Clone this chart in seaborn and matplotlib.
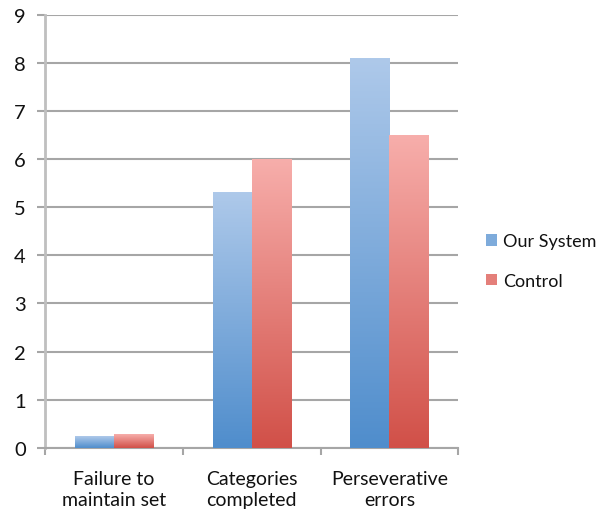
import numpy as np
import pandas as pd
import matplotlib.pyplot as plt
import matplotlib.colors as mcolors
from matplotlib.patches import Patch
import seaborn as sns

# Data
categories = ["Failure to\nmaintain set", "Categories\ncompleted", "Perseverative\nerrors"]
our_system = [0.23, 5.32, 8.1]
control = [0.29, 6.0, 6.5]
series = ["Our System", "Control"]

df = pd.DataFrame({
    "category": categories * 2,
    "value": our_system + control,
    "series": [series[0]] * 3 + [series[1]] * 3,
})

sns.set_theme(style="white")
plt.rcParams["font.family"] = ["Lato", "DejaVu Sans"]

# top / bottom colours of the Excel-style gradient
grad = {
    "Our System": ("#aec9ea", "#4f8dcc"),
    "Control": ("#f7aeab", "#d15048"),
}

fig = plt.figure(figsize=(6.03, 5.10), dpi=100)
ax = fig.add_axes([0.075, 0.12, 0.685, 0.849])

sns.barplot(data=df, x="category", y="value", hue="series",
            palette=[grad[s][1] for s in series], width=0.57,
            saturation=1, ax=ax, legend=False)

# replace flat fills with vertical gradients
for cont, name in zip(ax.containers, series):
    cmap = mcolors.LinearSegmentedColormap.from_list(name, [grad[name][1], grad[name][0]])
    for bar in cont:
        x0, y0 = bar.get_x(), bar.get_y()
        w, h = bar.get_width(), bar.get_height()
        bar.set_facecolor("none")
        bar.set_edgecolor("none")
        g = np.linspace(0, 1, 256).reshape(-1, 1)
        ax.imshow(g, cmap=cmap, origin="lower", aspect="auto",
                  extent=[x0, x0 + w, y0, y0 + h], zorder=3)

ax.set_xlim(-0.5, 2.5)
ax.set_ylim(0, 9)
ax.set_yticks(range(10))
ax.yaxis.grid(True, color="#a6a6a6", linewidth=1.5)
ax.set_axisbelow(True)
ax.set_xlabel("")
ax.set_ylabel("")

for s in ["top", "right"]:
    ax.spines[s].set_visible(False)
ax.spines["left"].set_color("#bfbfbf")
ax.spines["left"].set_linewidth(2)
ax.spines["bottom"].set_color("#a6a6a6")
ax.spines["bottom"].set_linewidth(1.5)

ax.tick_params(axis="y", length=6, width=1.5, color="#a6a6a6", labelsize=14.5, pad=8,
               left=True, labelcolor="#111111")
ax.tick_params(axis="x", length=0, labelsize=14, pad=16, labelcolor="#111111")
for lbl in ax.get_xticklabels():
    lbl.set_linespacing(1.3)
ax.set_xticks([-0.5, 0.5, 1.5, 2.5], minor=True)
ax.tick_params(axis="x", which="minor", length=5, width=1.5, color="#a6a6a6", bottom=True)

handles = [Patch(facecolor=mcolors.to_hex(np.mean([mcolors.to_rgb(c) for c in grad[s]], axis=0)),
                 edgecolor="none", label=s) for s in series]
fig.legend(handles=handles, loc="center left", bbox_to_anchor=(0.785, 0.486),
           frameon=False, fontsize=13, handlelength=0.6, handleheight=0.6,
           handletextpad=0.35, labelspacing=1.3, labelcolor="#111111",
           borderpad=0.2)

fig.savefig("out.png", dpi=100)
